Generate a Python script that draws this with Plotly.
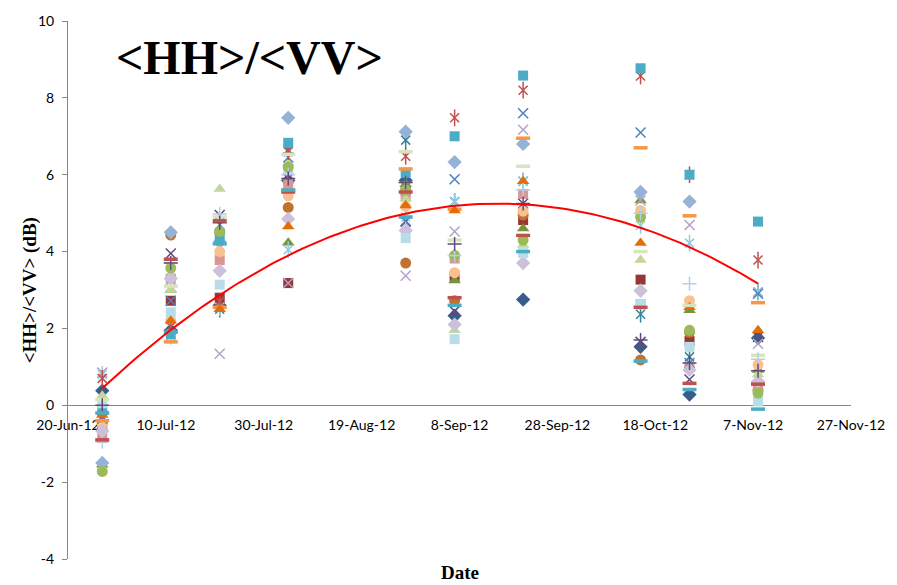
import numpy as np
import pandas as pd
import plotly.graph_objects as go

# Acquisition dates (one column of markers per date)
dates = ["2012-06-27", "2012-07-11", "2012-07-21", "2012-08-04", "2012-08-28",
         "2012-09-07", "2012-09-21", "2012-10-15", "2012-10-25", "2012-11-08"]

# X-axis ticks
tick_dates = ["2012-06-20", "2012-07-10", "2012-07-30", "2012-08-19", "2012-09-08",
              "2012-09-28", "2012-10-18", "2012-11-07", "2012-11-27"]
tick_labels = ["20-Jun-12", "10-Jul-12", "30-Jul-12", "19-Aug-12", "8-Sep-12",
               "28-Sep-12", "18-Oct-12", "7-Nov-12", "27-Nov-12"]
y_ticks = [-4, -2, 0, 2, 4, 6, 8, 10]
y_tick_labels = ["-4", "-2", "0", "2", "4", "6", "8", "10"]

# <HH>/<VV> ratio (dB) per field, one value per acquisition date
field_01 = [0.38, 1.95, 2.60, 5.85, 5.85, 2.33, 2.75, 1.52, 0.28, 1.75]
field_02 = [-0.55, 2.72, 2.80, 3.18, 5.58, 3.35, 4.82, 3.27, 1.67, 0.50]
field_03 = [-1.55, 3.00, 2.60, 4.23, 5.75, 3.25, 4.60, 5.33, 2.47, 0.92]
field_04 = [-0.30, 3.95, 4.95, 5.90, 4.78, 2.45, 5.25, 1.65, 0.67, 1.78]
field_05 = [-0.15, 1.83, 2.50, 6.65, 6.90, 5.30, 5.83, 2.37, 1.26, 2.95]
field_06 = [-0.20, 4.43, 4.50, 5.15, 3.70, 2.72, 4.95, 1.18, 1.90, 0.40]
field_07 = [-1.50, 4.50, 4.25, 7.48, 7.12, 6.33, 6.80, 5.55, 5.30, 0.60]
field_08 = [-0.85, 3.30, 3.78, 5.75, 5.45, 3.82, 5.50, 2.63, 1.00, 0.45]
field_09 = [0.25, 3.00, 5.63, 6.30, 5.37, 1.95, 4.17, 3.78, 1.95, 0.80]
field_10 = [0.85, 3.25, 1.34, 3.18, 3.37, 4.52, 7.17, 5.33, 4.69, 1.60]
field_11 = [0.80, 1.80, 2.55, 4.05, 4.90, 5.30, 5.83, 4.68, 4.22, 2.95]
field_12 = [-0.50, 2.20, 4.00, 5.45, 5.17, 3.45, 5.05, 5.07, 2.72, 1.06]
field_13 = [-0.35, 2.72, 4.70, 6.45, 4.80, 5.88, 7.60, 7.10, 1.10, 2.90]
field_14 = [0.70, 2.05, 2.70, 6.60, 6.48, 7.48, 8.20, 8.57, 6.00, 3.78]
field_15 = [-0.10, 1.85, 4.35, 6.83, 6.05, 7.00, 8.58, 8.77, 6.00, 4.78]
field_16 = [-0.40, 1.65, 2.55, 5.60, 6.15, 5.10, 6.95, 6.70, 4.93, 2.67]
field_17 = [-0.67, 3.30, 3.50, 4.85, 4.55, 2.10, 3.70, 2.98, 0.92, 0.62]
field_18 = [0.05, 2.42, 3.14, 6.15, 4.35, 1.72, 3.96, 2.63, 1.52, 0.10]
field_19 = [-1.72, 3.57, 4.52, 6.20, 5.60, 3.90, 4.30, 4.90, 1.95, 0.32]
field_20 = [-0.25, 2.20, 2.50, 4.65, 5.20, 5.07, 5.83, 4.22, 2.55, 1.95]
field_21 = [0.15, 3.10, 4.90, 6.53, 6.60, 4.30, 6.22, 4.00, 2.60, 1.30]
field_22 = [-0.95, 3.70, 4.98, 6.00, 5.80, 3.90, 5.60, 5.00, 3.16, 1.20]
field_23 = [0.00, 3.70, 4.75, 5.90, 5.80, 4.20, 5.25, 1.70, 1.10, 0.90]
field_24 = [-0.90, 3.80, 4.80, 5.55, 5.55, 2.80, 4.42, 2.55, 0.57, 0.55]
field_25 = [-0.20, 1.90, 4.20, 5.60, 4.90, 2.60, 4.00, 1.15, 0.41, -0.10]

fields = [field_01, field_02, field_03, field_04, field_05, field_06, field_07,
          field_08, field_09, field_10, field_11, field_12, field_13, field_14,
          field_15, field_16, field_17, field_18, field_19, field_20, field_21,
          field_22, field_23, field_24, field_25]

# Polynomial (order 2) trend, sampled at the acquisition dates
trend_at_dates = [0.45, 1.97, 2.85, 3.90, 4.97, 5.20, 5.25, 4.60, 4.15, 3.15]

# Marker style for each field: (kind, colour)
styles = [
    ("diamond", "#385D8A"), ("square", "#953735"), ("triangle", "#77933C"),
    ("x", "#604A7B"), ("star", "#31859C"), ("circle", "#C0732F"),
    ("diamond", "#95B3D7"), ("square", "#D99694"), ("triangle", "#C3D69B"),
    ("x", "#B3A2C7"), ("star", "#93CDDD"), ("circle", "#FAC090"),
    ("x", "#4F81BD"), ("star", "#C0504D"), ("square", "#4BACC6"),
    ("dash", "#F79646"), ("diamond", "#CCC1DA"), ("square", "#B7DEE8"),
    ("circle", "#9BBB59"), ("triangle", "#E46C0A"), ("dash", "#D7E4BD"),
    ("plus", "#B9CDE5"), ("plus", "#604A7B"), ("dash", "#C0504D"),
    ("dash", "#4BACC6"),
]

x_dates = pd.to_datetime(dates)
fig = go.Figure()


def add_markers(y, symbol, color, size, filled, line_width=1.5):
    if filled:
        marker = dict(symbol=symbol, size=size, color=color, line=dict(width=0))
    else:
        marker = dict(symbol=symbol, size=size, color=color,
                      line=dict(width=line_width, color=color))
    fig.add_trace(go.Scatter(x=x_dates, y=y, mode="markers", marker=marker,
                             showlegend=False, hoverinfo="x+y"))


for values, (kind, color) in zip(fields, styles):
    if kind == "diamond":
        add_markers(values, "diamond", color, 11, True)
    elif kind == "square":
        add_markers(values, "square", color, 10, True)
    elif kind == "triangle":
        add_markers(values, "triangle-up", color, 11, True)
    elif kind == "circle":
        add_markers(values, "circle", color, 11, True)
    elif kind == "x":
        add_markers(values, "x-thin-open", color, 10, False)
    elif kind == "star":
        add_markers(values, "x-thin-open", color, 9, False)
        add_markers(values, "line-ns-open", color, 12, False)
    elif kind == "plus":
        add_markers(values, "cross-thin-open", color, 10, False)
    elif kind == "dash":
        add_markers(values, "line-ew-open", color, 10, False, line_width=3.5)

# Quadratic trend line fitted to the sampled trend values
t_days = (x_dates - x_dates[0]).days.values.astype(float)
coef = np.polyfit(t_days, trend_at_dates, 2)
t_fine = np.arange(0, t_days[-1] + 1, 1.0)
fig.add_trace(go.Scatter(
    x=x_dates[0] + pd.to_timedelta(t_fine, unit="D"),
    y=np.polyval(coef, t_fine),
    mode="lines", line=dict(color="#FF0000", width=2),
    showlegend=False, hoverinfo="skip"))

axis_grey = "#868686"
y_min, y_max = -4, 10

fig.update_layout(
    width=897, height=585,
    margin=dict(l=68, r=39, t=15, b=26),
    paper_bgcolor="white", plot_bgcolor="white",
    font=dict(family="Lato", size=14, color="#000000"),
    xaxis=dict(
        type="date", range=[tick_dates[0], tick_dates[-1]],
        tickvals=tick_dates, ticktext=tick_labels,
        showline=True, linecolor=axis_grey, linewidth=1,
        showgrid=False, zeroline=False, ticks="",
        anchor="free", position=(0 - y_min) / (y_max - y_min),
        layer="below traces", ticklabelstandoff=7,
        tickfont=dict(family="Lato", size=14, color="#000000"),
    ),
    yaxis=dict(
        range=[y_min, y_max], tickvals=y_ticks, ticktext=y_tick_labels,
        showline=True, linecolor=axis_grey, linewidth=1,
        showgrid=False, zeroline=False,
        ticks="outside", ticklen=5, tickcolor=axis_grey,
        ticklabelstandoff=5,
        tickfont=dict(family="Lato", size=14, color="#000000"),
    ),
    annotations=[
        dict(text="<b><HH>/<VV></b>", xref="paper", yref="paper",
             x=(251 - 68) / 790, y=1 - (52 - 15) / 544,
             xanchor="center", yanchor="middle", showarrow=False,
             font=dict(family="Liberation Serif", size=48, color="#000000")),
        dict(text="<b><HH>/<VV> (dB)</b>", xref="paper", yref="paper",
             x=(30 - 68) / 790, y=0.5, textangle=-90,
             xanchor="center", yanchor="middle", showarrow=False,
             font=dict(family="Liberation Serif", size=19, color="#000000")),
        dict(text="<b>Date</b>", xref="paper", yref="paper",
             x=0.5, y=1 - (573 - 15) / 544,
             xanchor="center", yanchor="middle", showarrow=False,
             font=dict(family="Liberation Serif", size=19, color="#000000")),
    ],
)

fig.write_html("out.html")
